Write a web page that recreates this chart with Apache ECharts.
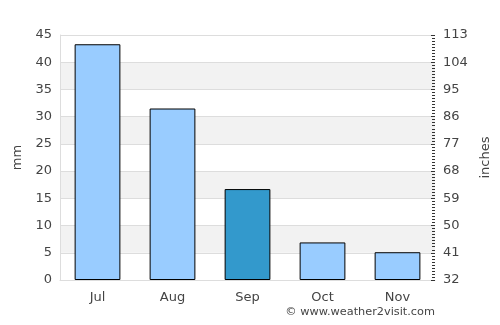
<!DOCTYPE html>
<html>
<head>
<meta charset="utf-8">
<script src="https://cdn.jsdelivr.net/npm/echarts@6/dist/echarts.min.js"></script>
<style>
  html, body { margin: 0; padding: 0; background: #fff; }
  #chart { width: 500px; height: 325px; }
</style>
</head>
<body>
<div id="chart"></div>
<script>
// data
const months = ['Jul', 'Aug', 'Sep', 'Oct', 'Nov']
const rainMm = [43.3, 31.5, 16.7, 6.9, 5.1]
const highlightIndex = 2
const rightTicks = [32, 41, 50, 59, 68, 77, 86, 95, 104, 113]

const chart = echarts.init(document.getElementById('chart'))
const font = 'DejaVu Sans, sans-serif'

const option = {
  animation: false,
  textStyle: { fontFamily: font },
  grid: { left: 60, right: 65, top: 35, bottom: 45 },
  xAxis: {
    type: 'category',
    data: months,
    axisLine: { lineStyle: { color: '#dddddd' } },
    axisTick: { show: false },
    axisLabel: { color: '#444', fontSize: 13, margin: 11, fontFamily: font }
  },
  yAxis: [
    {
      type: 'value',
      min: 0,
      max: 45,
      interval: 5,
      name: 'mm',
      nameLocation: 'middle',
      nameGap: 33,
      nameTextStyle: { color: '#444', fontSize: 13, fontFamily: font },
      axisLine: { show: true, lineStyle: { color: '#dddddd' } },
      axisTick: { show: false },
      axisLabel: { color: '#444', fontSize: 13, margin: 8, fontFamily: font },
      splitLine: { lineStyle: { color: '#dddddd' } },
      splitArea: { show: true, areaStyle: { color: ['#ffffff', '#f2f2f2'] } }
    },
    {
      type: 'value',
      min: rightTicks[0],
      max: rightTicks[rightTicks.length - 1],
      interval: rightTicks[1] - rightTicks[0],
      position: 'right',
      name: 'inches',
      nameLocation: 'middle',
      nameGap: 36,
      nameRotate: 90,
      nameTextStyle: { color: '#444', fontSize: 13, fontFamily: font },
      axisLine: { show: false },
      axisTick: { show: true, inside: true, length: 4, lineStyle: { color: '#333' } },
      minorTick: { show: true, splitNumber: 9, length: 3, lineStyle: { color: '#333' } },
      axisLabel: { color: '#444', fontSize: 13, margin: 8, fontFamily: font },
      splitLine: { show: false }
    }
  ],
  series: [
    {
      type: 'bar',
      barWidth: '61%',
      data: rainMm.map((v, i) => ({
        value: v,
        itemStyle: { color: i === highlightIndex ? '#3399cc' : '#99ccff' }
      })),
      itemStyle: { borderColor: '#000', borderWidth: 1 }
    }
  ],
  graphic: [
    {
      type: 'text',
      right: 65,
      top: 307,
      style: { text: '© www.weather2visit.com', fill: '#444', font: '11.3px ' + font }
    }
  ]
}

chart.setOption(option)
</script>
</body>
</html>
